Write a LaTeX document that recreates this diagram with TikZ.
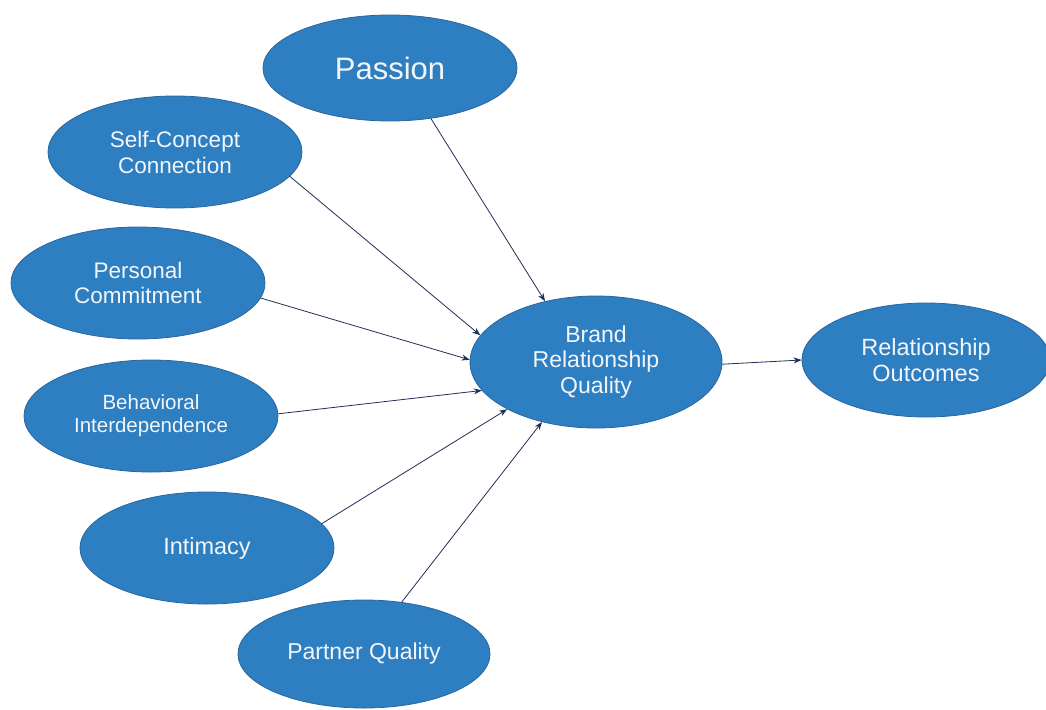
\documentclass[tikz,border=0pt]{standalone}
\usepackage{fontspec}
\setmainfont{Liberation Sans}
\usetikzlibrary{shapes.geometric,arrows.meta}
\definecolor{ellfill}{HTML}{2E7EC2}
\definecolor{ellborder}{HTML}{2A669E}
\definecolor{arr}{HTML}{1F2F55}
\definecolor{txt}{HTML}{F2F6FA}
\begin{document}
\begin{tikzpicture}[x=1pt,y=-1pt,
  ell/.style={ellipse, fill=ellfill, draw=ellborder, line width=0.8pt, text=txt, inner sep=0pt, align=center},
  link/.style={draw=arr, line width=0.8pt, -{Stealth[length=8pt,width=6pt]}}]
\useasboundingbox[fill=white] (0,0) rectangle (1046,709);
\node[ell, minimum width=254pt, minimum height=106pt, font=\fontsize{31}{36}\selectfont] (passion) at (390,68) {Passion};
\node[ell, minimum width=254pt, minimum height=112pt, font=\fontsize{22.5}{26}\selectfont] (self) at (175,152) {Self-Concept\\Connection};
\node[ell, minimum width=254pt, minimum height=112pt, font=\fontsize{22.5}{25.5}\selectfont] (pers) at (138,283) {Personal\\Commitment};
\node[ell, minimum width=254pt, minimum height=112pt, font=\fontsize{20.5}{23}\selectfont] (behav) at (151,416) {Behavioral\\Interdependence};
\node[ell, minimum width=254pt, minimum height=112pt, font=\fontsize{23.5}{26}\selectfont] (intim) at (207,548) {Intimacy};
\node[ell, minimum width=252pt, minimum height=108pt, font=\fontsize{23}{26}\selectfont] (partner) at (364,654) {Partner Quality};
\node[ell, minimum width=252pt, minimum height=132pt, font=\fontsize{23}{25.5}\selectfont] (brq) at (596,362) {Brand\\Relationship\\Quality};
\node[ell, minimum width=248pt, minimum height=114pt, font=\fontsize{23.5}{26.5}\selectfont] (out) at (926,360) {Relationship\\Outcomes};

\draw[link] (passion.-51) -- (brq.130);
\draw[link] (self.-12) -- (brq.167);
\draw[link] (pers.-7) -- (brq.179);
\draw[link] (behav.1) -- (brq.-166);
\draw[link] (intim.12.5) -- (brq.-152);
\draw[link] (partner.54) -- (brq.-132);
\draw[link] (brq.-1) -- (out.180);
\end{tikzpicture}
\end{document}
